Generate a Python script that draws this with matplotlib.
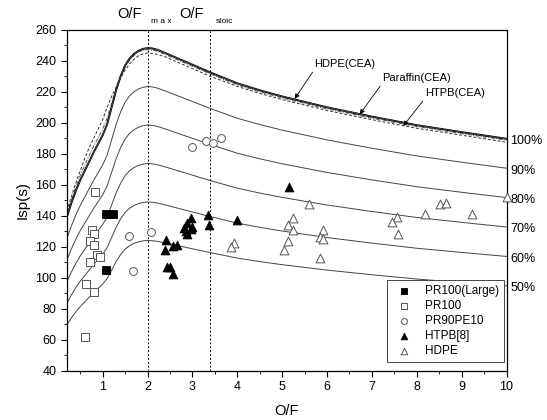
import numpy as np
import matplotlib
matplotlib.use('Agg')
import matplotlib.pyplot as plt

plt.rcParams['font.family'] = ['Liberation Sans', 'DejaVu Sans']

# CEA theoretical Isp curves
of_cea = [0.2, 0.3, 0.4, 0.5, 0.6, 0.7, 0.8, 0.9, 1.0, 1.1, 1.2, 1.3, 1.4, 1.5, 1.6, 1.7,
          1.8, 1.9, 2.0, 2.1, 2.2, 2.4, 2.6, 2.8, 3.0, 3.4, 4.0, 4.5, 5.0, 5.5, 6.0, 7.0,
          8.0, 9.0, 10.0]
isp_hdpe = [139, 148, 156, 163, 169, 175, 181, 186.5, 192, 199, 210, 221, 230, 237, 241.5,
            244.5, 246.5, 247.7, 248.2, 248, 247.3, 245, 242.5, 240, 237.5, 232.5, 225.5,
            221, 217, 213.5, 210, 204, 198.5, 194, 189.7]
isp_paraffin = [141, 150, 158.5, 166, 172.5, 179, 185, 190.5, 196, 203, 212.5, 222, 230,
                236, 240.5, 243.5, 245.7, 246.8, 247.2, 247, 246.3, 244, 241.5, 239, 236.5,
                231.5, 224.5, 220, 216, 212.5, 209, 203, 197.6, 193, 188.8]
isp_htpb = [143, 152, 161, 169, 177, 184, 190, 196, 202, 210, 217, 223, 229, 234, 238, 241,
            243.3, 244.5, 245, 244.8, 244.3, 242.5, 240, 237.5, 235, 230, 223.5, 219, 215,
            211.5, 208, 202, 196.5, 192, 187.5]

efficiency = [1.0, 0.9, 0.8, 0.7, 0.6, 0.5]
eff_labels = ['100%', '90%', '80%', '70%', '60%', '50%']

# experimental data
pr100_large_x = [1.08, 1.23, 1.07]
pr100_large_y = [141, 141, 105]
pr100_x = [0.82, 0.76, 0.80, 0.71, 0.81, 0.87, 0.95, 0.72, 0.63, 0.81, 0.61]
pr100_y = [155.5, 130.8, 128, 123.7, 121.5, 115, 113.5, 110.3, 96, 91, 62]
pr90_x = [1.58, 1.68, 2.07, 3.0, 3.31, 3.46, 3.63]
pr90_y = [126.7, 104.3, 129.3, 184.7, 188, 187, 190]
htpb_x = [2.42, 2.38, 2.57, 2.66, 2.43, 2.5, 2.57, 2.81, 2.89, 2.98, 2.96, 2.89, 3.0, 2.85,
          3.34, 3.36, 3.99, 5.16]
htpb_y = [124.3, 117.9, 120.5, 121.1, 107.1, 107.1, 102.4, 131.9, 135.1, 138.7, 131.2, 128.2,
          133, 130, 140.5, 134, 137.2, 158.7]
hdpe_x = [3.93, 3.86, 5.6, 5.25, 5.13, 5.25, 5.14, 5.04, 5.92, 5.85, 5.92, 5.85, 7.57, 7.45,
          7.59, 8.18, 8.52, 8.65, 9.23, 10.0]
hdpe_y = [122.2, 119.6, 147.5, 138.3, 134, 130.8, 123.9, 117.9, 130.8, 126.1, 124.8, 112.5,
          139, 136.1, 128.2, 141.1, 147.5, 148.4, 141.1, 152]

of_max = 2.0
of_stoic = 3.4

fig = plt.figure(figsize=(5.47, 4.2), dpi=100)
ax = fig.add_axes([0.122, 0.117, 0.804, 0.812])

cea = np.array(isp_hdpe)
ax.plot(of_cea, isp_htpb, color='#333333', lw=0.7, ls=(0, (3, 2)))
ax.plot(of_cea, isp_paraffin, color='#555555', lw=0.7, ls=(0, (4, 1.5, 1, 1.5)))
ax.plot(of_cea, isp_hdpe, color='black', lw=1.4)
for eff, lab in zip(efficiency, eff_labels):
    ax.plot(of_cea, eff * cea, color='#444444', lw=0.7)
    ax.text(10.08, eff * cea[-1] - 1.5, lab, fontsize=9, va='center', ha='left',
            clip_on=False)

ax.axvline(of_max, color='black', lw=0.7, ls=(0, (2, 2)))
ax.axvline(of_stoic, color='black', lw=0.7, ls=(0, (2, 2)))

tr = ax.get_xaxis_transform()
ax.text(1.88, 1.034, 'O/F', transform=tr, ha='right', va='baseline', fontsize=10.5)
ax.text(2.07, 1.02, 'm a x', transform=tr, ha='left', va='baseline', fontsize=6)
ax.text(3.25, 1.034, 'O/F', transform=tr, ha='right', va='baseline', fontsize=10.5)
ax.text(3.52, 1.02, 'stoic', transform=tr, ha='left', va='baseline', fontsize=6)

arrow = dict(arrowstyle='-|>', color='black', lw=0.6, mutation_scale=7,
             relpos=(0, 0), shrinkA=0, shrinkB=0)
ax.annotate('HDPE(CEA)', xy=(5.28, 215.5), xytext=(5.72, 234.5), fontsize=8,
            ha='left', va='bottom', arrowprops=arrow)
ax.annotate('Paraffin(CEA)', xy=(6.73, 205.5), xytext=(7.23, 225.5), fontsize=8,
            ha='left', va='bottom', arrowprops=arrow)
ax.annotate('HTPB(CEA)', xy=(7.70, 198.0), xytext=(8.18, 215.7), fontsize=8,
            ha='left', va='bottom', arrowprops=arrow)

ax.scatter(pr100_large_x, pr100_large_y, marker='s', s=30, facecolor='black',
           edgecolor='black', lw=0.6, label='PR100(Large)', zorder=3)
ax.scatter(pr100_x, pr100_y, marker='s', s=30, facecolor='white',
           edgecolor='#555555', lw=0.7, label='PR100', zorder=3)
ax.scatter(pr90_x, pr90_y, marker='o', s=32, facecolor='white',
           edgecolor='#555555', lw=0.7, label='PR90PE10', zorder=3)
ax.scatter(htpb_x, htpb_y, marker='^', s=40, facecolor='black',
           edgecolor='black', lw=0.6, label='HTPB[8]', zorder=3)
ax.scatter(hdpe_x, hdpe_y, marker='^', s=40, facecolor='white',
           edgecolor='#555555', lw=0.7, label='HDPE', zorder=3, clip_on=False)

leg = ax.legend(loc='lower right', bbox_to_anchor=(0.995, 0.026), fontsize=8.5,
                frameon=True, fancybox=False, edgecolor='#444444', framealpha=1,
                borderpad=0.45, labelspacing=0.25, handletextpad=0.8,
                markerscale=0.75, borderaxespad=0)
leg.get_frame().set_linewidth(0.7)

ax.set_xlim(0.2, 10)
ax.set_ylim(40, 260)
ax.set_xticks(range(1, 11))
ax.set_xticks(np.arange(0.5, 10.01, 0.5), minor=True)
ax.set_yticks(range(40, 261, 20))
ax.set_yticks(range(40, 261, 10), minor=True)
ax.tick_params(which='both', direction='out', labelsize=9, top=False, right=False)
ax.tick_params(which='major', length=4)
ax.tick_params(which='minor', length=2.5)
for s in ax.spines.values():
    s.set_linewidth(0.9)

ax.set_xlabel('O/F', fontsize=10.5, labelpad=8)
ax.set_ylabel('Isp(s)', fontsize=11, labelpad=4)

fig.savefig('out.png', dpi=100)
